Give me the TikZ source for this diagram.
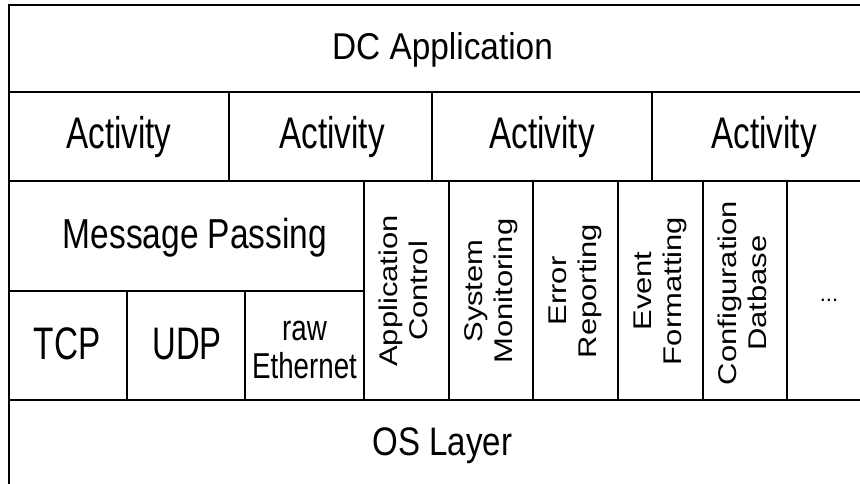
\documentclass[tikz,border=0pt]{standalone}
\usepackage{fontspec}
\setmainfont{Liberation Sans}

% horizontal label: font size, horizontal squeeze, text
\newcommand\htxt[3]{\scalebox{#2}[1]{\fontsize{#1}{#1}\selectfont #3}}
% two centred lines: font size, baseline skip, first line, second line
\newcommand\twoline[4]{{\fontsize{#1}{#2}\selectfont\begin{tabular}[b]{@{}c@{}}#3\\#4\end{tabular}}}
% vertical (rotated) label with the text stretched along its length
\newcommand\vtxt[2]{\scalebox{1.21}[1]{\twoline{25.6}{30}{#1}{#2}}}

\tikzset{
  gridline/.style={line width=2pt, line cap=rect},
  hlabel/.style={inner sep=0pt, anchor=base},
  vlabel/.style={inner sep=0pt, rotate=90},
}

\begin{document}
\begin{tikzpicture}[x=1pt, y=-1pt]
\useasboundingbox (0,0) rectangle (860,484);
\clip (0,0) rectangle (860,484);
\fill[white] (0,0) rectangle (860,484);

% layer stack outline and row separators
\draw[gridline] (9,5) rectangle (876,488);
\draw[gridline] (9,92.5) -- (876,92.5);
\draw[gridline] (9,181) -- (876,181);
\draw[gridline] (9,291) -- (364,291);
\draw[gridline] (9,400) -- (876,400);

% activity row dividers
\foreach \x in {229,432,652}
  \draw[gridline] (\x,92.5) -- (\x,181);
% service column dividers
\foreach \x in {364,449,533,618,703,787}
  \draw[gridline] (\x,181) -- (\x,400);
% transport dividers
\foreach \x in {127,245}
  \draw[gridline] (\x,291) -- (\x,400);

% labels
\node[hlabel] (app) at (442.5,60) {\htxt{37.3}{0.895}{DC Application}};

\node[hlabel] (act1) at (119,148.3) {\htxt{44.3}{0.75}{Activity}};
\node[hlabel] (act2) at (332,148.3) {\htxt{44.3}{0.75}{Activity}};
\node[hlabel] (act3) at (542,148.3) {\htxt{44.3}{0.75}{Activity}};
\node[hlabel] (act4) at (764,148.3) {\htxt{44.3}{0.75}{Activity}};

\node[hlabel] (msg) at (195,248) {\htxt{41.9}{0.80}{Message Passing}};

\node[hlabel] (tcp) at (67,359.3) {\htxt{45.6}{0.73}{TCP}};
\node[hlabel] (udp) at (187,359.3) {\htxt{45.6}{0.72}{UDP}};
\node[hlabel] (raw) at (304.5,378) {\scalebox{0.77}[1]{\twoline{36}{38}{raw}{Ethernet}}};

\node[vlabel] (ctl) at (406.5,291) {\vtxt{Application}{Control}};
\node[vlabel] (mon) at (491,291) {\vtxt{System}{Monitoring}};
\node[vlabel] (err) at (575.5,291) {\vtxt{Error}{Reporting}};
\node[vlabel] (evt) at (660.5,291) {\vtxt{Event}{Formatting}};
\node[vlabel] (cfg) at (745,293) {\vtxt{Configuration}{Datbase}};

\node[hlabel] (more) at (829,301) {\htxt{22}{1}{...}};

\node[hlabel] (os) at (442.5,455) {\htxt{39.8}{0.83}{OS Layer}};
\end{tikzpicture}
\end{document}
